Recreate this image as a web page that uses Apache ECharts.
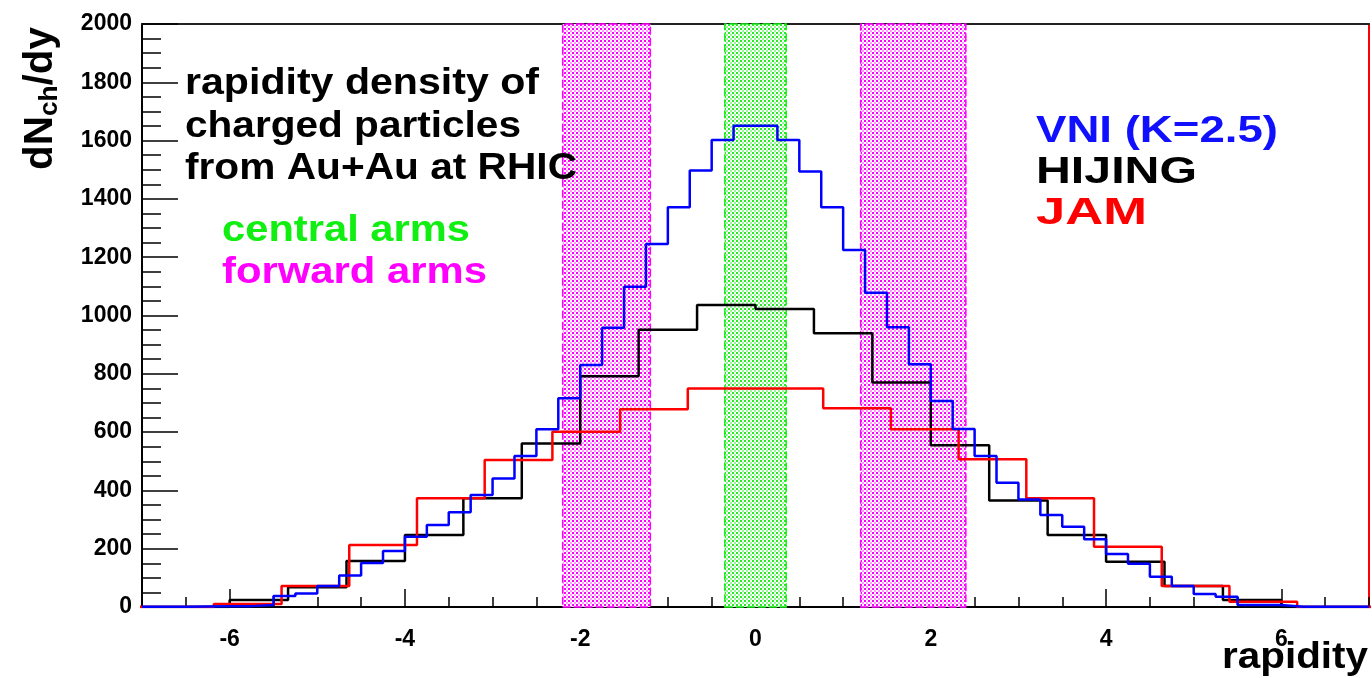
<!DOCTYPE html>
<html>
<head>
<meta charset="utf-8">
<script src="https://cdn.jsdelivr.net/npm/echarts@6/dist/echarts.min.js"></script>
<style>
html,body{margin:0;padding:0;background:#fff;}
#chart{width:1372px;height:678px;}
</style>
</head>
<body>
<div id="chart"></div>
<script>
// ---------- data ----------
// VNI (K=2.5): bins of 0.25 starting at -7
const vniStart = -7, vniWidth = 0.25;
const vniValues = [1,1,2,3,3, 7,38,46,72,108,151,192,241,281,325,384,441,518,610,716,830,958,1099,1245,1371,
  1497,1602,1651,1651,1602,1494,1371,1225,1078,960,833,707,611,518,426,369,316,275,232,182,
  148,104,72,45,35,7,7,1,1,1,1];
// HIJING: bins of 2/3 starting at -22/3
const hijingStart = -22/3, hijingWidth = 2/3;
const hijingValues = [0,0,24,68,158,247,373,561,792,951,1036,1022,939,770,555,365,247,155,72,24,0,0];
// JAM: bins of 0.7725 starting at -7.725
const jamStart = -7.725, jamWidth = 0.7725;
const jamValues = [0,0,10,72,213,373,504,601,678,750,750,682,610,507,373,207,72,18,0,0];

// acceptance bands (rapidity ranges)
const forwardArms = [[-2.2,-1.2],[1.2,2.4]];
const centralArms = [[-0.35,0.35]];

const xMajorTicks = [-6,-4,-2,0,2,4,6];

// ---------- helpers ----------
function steps(start, width, vals){
  const pts = vals.map((v,i)=>[start + i*width, v]);
  pts.push([start + vals.length*width, vals[vals.length-1]]);
  return pts;
}
function pattern(color, light){
  const c = document.createElement('canvas');
  c.width = 4; c.height = 4;
  const g = c.getContext('2d');
  g.fillStyle = '#ffffff'; g.fillRect(0,0,4,4);
  g.fillStyle = color; g.fillRect(0,0,2,2);
  g.fillStyle = light; g.fillRect(2,2,2,2);
  return c;
}
const FONT = '"Liberation Sans", Arial, Helvetica, sans-serif';
const mctx = document.createElement('canvas').getContext('2d');
function measure(text, size){
  mctx.font = 'bold ' + size + 'px ' + FONT;
  return mctx.measureText(text).width;
}
function fitText(a){
  const w = measure(a.text, a.size);
  return {
    type:'text', x:a.left, y:a.baseline - 0.35*a.size, scaleX:(a.right - a.left)/w, z:100,
    style:{text:a.text, font:'bold ' + a.size + 'px ' + FONT, fill:a.color,
      textAlign:'left', textVerticalAlign:'middle', align:'left', verticalAlign:'middle'}
  };
}

const annotations = [
  {text:'rapidity density of', left:185, right:539, baseline:97, size:37, color:'#000000'},
  {text:'charged particles', left:185, right:521, baseline:140, size:37, color:'#000000'},
  {text:'from Au+Au at RHIC', left:185, right:577, baseline:182, size:37, color:'#000000'},
  {text:'central arms', left:222, right:470, baseline:244, size:37, color:'#11ee11'},
  {text:'forward arms', left:222, right:487, baseline:286, size:37, color:'#ff00ff'},
  {text:'VNI (K=2.5)', left:1036, right:1278, baseline:145, size:37, color:'#1010ff'},
  {text:'HIJING', left:1036, right:1197, baseline:186, size:37, color:'#000000'},
  {text:'JAM', left:1036, right:1147, baseline:227, size:37, color:'#ff0000'},
  {text:'rapidity', left:1222, right:1368, baseline:671, size:37, color:'#000000'}
];

// y-axis title dN_ch/dy, rotated
const ts = 40, ss = 26;
const w1 = measure('dN', ts), w2 = measure('ch', ss), w3 = measure('/dy', ts);
const yTitleLen = 143;
const yTitle = {
  type:'group', x:55, y:170, rotation:Math.PI/2, scaleX: yTitleLen/(w1+w2+w3), z:100,
  children:[
    {type:'text', x:0, y:-0.35*ts, style:{text:'dN', font:'bold '+ts+'px '+FONT, fill:'#000', textAlign:'left', textVerticalAlign:'middle', align:'left', verticalAlign:'middle'}},
    {type:'text', x:w1, y:4-0.35*ss, style:{text:'ch', font:'bold '+ss+'px '+FONT, fill:'#000', textAlign:'left', textVerticalAlign:'middle', align:'left', verticalAlign:'middle'}},
    {type:'text', x:w1+w2, y:-0.35*ts, style:{text:'/dy', font:'bold '+ts+'px '+FONT, fill:'#000', textAlign:'left', textVerticalAlign:'middle', align:'left', verticalAlign:'middle'}}
  ]
};

const tickStyle = {color:'#000', width:1.5};
const labelStyle = {fontFamily:FONT, fontWeight:'bold', fontSize:23, color:'#000'};

const chart = echarts.init(document.getElementById('chart'), null, {renderer:'canvas'});
chart.setOption({
  animation:false,
  backgroundColor:'#ffffff',
  grid:{left:142, right:3, top:24, bottom:71},
  xAxis:[
    {type:'value', min:-7, max:7, position:'bottom',
      axisLine:{show:true, onZero:false, lineStyle:{color:'#000', width:2}},
      axisTick:{show:true, inside:true, length:18, customValues:xMajorTicks, lineStyle:tickStyle},
      axisLabel:Object.assign({customValues:xMajorTicks, margin:21, formatter:v=>String(v)}, labelStyle),
      splitLine:{show:false}},
    {type:'value', min:-7, max:7, interval:0.5, position:'bottom',
      axisLine:{show:false}, axisTick:{show:true, inside:true, length:10, lineStyle:tickStyle},
      axisLabel:{show:false}, splitLine:{show:false}},
    {type:'value', min:-7, max:7, position:'top',
      axisLine:{show:true, onZero:false, lineStyle:{color:'#222', width:2}},
      axisTick:{show:false}, axisLabel:{show:false}, splitLine:{show:false}}
  ],
  yAxis:[
    {type:'value', min:0, max:2000, interval:200, position:'left',
      axisLine:{show:true, onZero:false, lineStyle:{color:'#000', width:2}},
      axisTick:{show:true, inside:true, length:36, lineStyle:tickStyle},
      minorTick:{show:true, splitNumber:4, length:19, lineStyle:tickStyle},
      axisLabel:Object.assign({margin:10, formatter:v=>String(v)}, labelStyle),
      splitLine:{show:false}, minorSplitLine:{show:false}},
    {type:'value', min:0, max:2000, position:'right',
      axisLine:{show:true, onZero:false, lineStyle:{color:'#ff0000', width:2}},
      axisTick:{show:false}, axisLabel:{show:false}, splitLine:{show:false}}
  ],
  graphic:[yTitle].concat(annotations.map(fitText)),
  series:[
    {type:'line', data:[], z:1, silent:true,
      markArea:{silent:true,
        itemStyle:{color:{image:pattern('#ff00ff','#ff99ff'), repeat:'repeat'}, opacity:1, borderColor:'#ff00ff', borderWidth:1.5, borderType:[8,3]},
        data:forwardArms.map(b=>[{xAxis:b[0]},{xAxis:b[1]}])}},
    {type:'line', data:[], z:1, silent:true,
      markArea:{silent:true,
        itemStyle:{color:{image:pattern('#22ee22','#99f599'), repeat:'repeat'}, opacity:1, borderColor:'#11ee11', borderWidth:1.5, borderType:[8,3]},
        data:centralArms.map(b=>[{xAxis:b[0]},{xAxis:b[1]}])}},
    {name:'HIJING', type:'line', step:'end', showSymbol:false, symbol:'none', z:3,
      lineStyle:{color:'#000000', width:2.5}, data:steps(hijingStart, hijingWidth, hijingValues)},
    {name:'JAM', type:'line', step:'end', showSymbol:false, symbol:'none', z:3,
      lineStyle:{color:'#ff0000', width:2.5}, data:steps(jamStart, jamWidth, jamValues)},
    {name:'VNI (K=2.5)', type:'line', step:'end', showSymbol:false, symbol:'none', z:4,
      lineStyle:{color:'#0000ff', width:2.5}, data:steps(vniStart, vniWidth, vniValues)}
  ]
});
</script>
</body>
</html>
